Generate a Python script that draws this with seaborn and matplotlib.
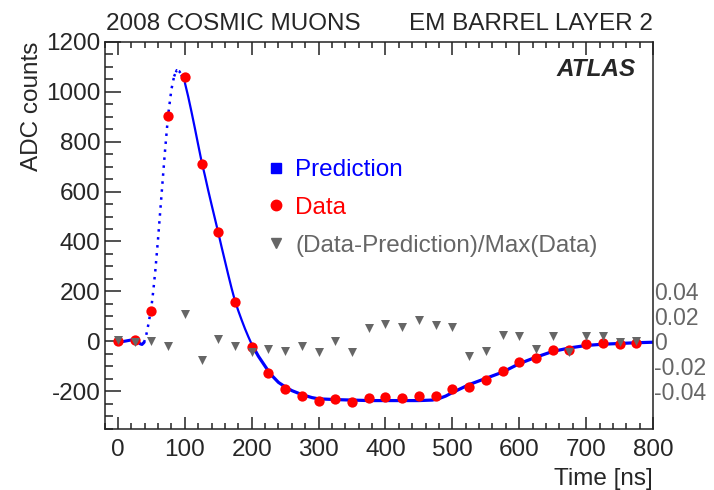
import numpy as np
import pandas as pd
import matplotlib
matplotlib.use("Agg")
import matplotlib.pyplot as plt
import seaborn as sns
from matplotlib.lines import Line2D
from matplotlib.ticker import MultipleLocator

# data points (every 25 ns)
data_t = [0, 25, 50, 75, 100, 125, 150, 175, 200, 225, 250, 275, 300, 325, 350, 375,
          400, 425, 450, 475, 500, 525, 550, 575, 600, 625, 650, 675, 700, 725, 750, 775]
data_adc = [0, 3, 120, 905, 1058, 710, 438, 158, -25, -127, -190, -218, -241, -232, -245, -227,
            -224, -226, -220, -220, -193, -184, -157, -121, -85, -69, -34, -36, -13, -9, -13, -9]
# (Data-Prediction)/Max(Data)
resid = [0.001, -0.0005, 0.0005, -0.004, 0.022, -0.015, 0.002, -0.004, -0.009, -0.0065, -0.008,
         -0.004, -0.009, 0.0005, -0.0085, 0.0105, 0.014, 0.0115, 0.0168, 0.0133, 0.0115, -0.0115,
         -0.008, 0.0053, 0.004, -0.006, 0.0045, -0.0088, 0.004, 0.0045, -0.001, 0.0005]

# prediction curve
pred_t = [0, 10, 20, 25, 30, 33, 36, 39, 42, 45, 48, 50, 53, 56, 60, 65, 70, 75, 80, 84, 88,
          92, 96, 100, 105, 110, 115, 120, 125, 130, 135, 140, 145, 150, 155, 160, 165, 170,
          175, 180, 185, 190, 195, 200, 210, 220, 225, 230, 240, 250, 260, 275, 290, 300, 325,
          350, 375, 400, 425, 450, 470, 480, 490, 500, 525, 550, 575, 600, 625, 650, 675, 700,
          725, 750, 775, 800]
pred_adc = [-5, 0, 5, 6, -2, -10, -13, -5, 20, 60, 105, 135, 205, 285, 410, 580, 750, 905, 1010,
            1062, 1087, 1082, 1062, 1038, 982, 920, 855, 788, 722, 665, 605, 548, 492, 436, 378,
            322, 266, 212, 162, 122, 85, 50, 18, -12, -60, -100, -120, -137, -165, -183, -198,
            -214, -226, -231, -234, -236, -238, -238, -238, -238, -236, -230, -220, -206, -174,
            -149, -124, -90, -64, -41, -27, -17, -12, -9, -6, -4]

sns.set_theme(style="ticks")
plt.rcParams['font.family'] = ['Liberation Sans', 'DejaVu Sans']
plt.rcParams['axes.unicode_minus'] = False

FS = 17.5
GREY = "#666666"

fig = plt.figure(figsize=(7.14, 4.90), dpi=100)
ax = fig.add_axes([0.1464, 0.1255, 0.7682, 0.7888])

pred = pd.DataFrame({"t": pred_t, "adc": pred_adc})
# steep parts look dotted in the original (dense markers), flat parts solid
seg_flat1 = pred[pred.t <= 39]
seg_rise = pred[(pred.t >= 39) & (pred.t <= 84)]
seg_peak = pred[(pred.t >= 84) & (pred.t <= 100)]
seg_fall = pred[(pred.t >= 100) & (pred.t <= 200)]
seg_flat2 = pred[pred.t >= 200]

for seg, lw, ls in [(seg_flat1, 2.2, "-"), (seg_rise, 1.8, (0, (1, 2.2))),
                    (seg_peak, 1.8, (0, (1, 0.8))), (seg_fall, 1.6, "-"),
                    (seg_flat2, 2.3, "-")]:
    sns.lineplot(data=seg, x="t", y="adc", ax=ax, color="blue", lw=lw,
                 linestyle=ls, errorbar=None, zorder=2)

sns.scatterplot(x=data_t, y=data_adc, ax=ax, color="red", marker="o", s=55,
                linewidth=0, zorder=3)

ax.set_xlim(-20, 800)
ax.set_ylim(-350, 1200)
ax.xaxis.set_major_locator(MultipleLocator(100))
ax.xaxis.set_minor_locator(MultipleLocator(20))
ax.yaxis.set_major_locator(MultipleLocator(200))
ax.yaxis.set_minor_locator(MultipleLocator(50))
ax.tick_params(which="both", direction="in", top=True, right=True, labelsize=FS,
               color="#222222", width=1.1)
ax.tick_params(axis="x", which="major", length=9, pad=7.5)
ax.tick_params(axis="x", which="minor", length=4.5)
ax.tick_params(axis="y", which="major", length=11.5, pad=3)
ax.tick_params(axis="y", which="minor", length=6)
for sp in ax.spines.values():
    sp.set_linewidth(1.1)
    sp.set_color("#222222")

ax.set_xlabel("Time [ns]", loc="right", fontsize=FS, labelpad=5)
ax.set_ylabel("ADC counts", loc="top", fontsize=FS, labelpad=2)

# right axis for the relative residuals
ax2 = ax.twinx()
sns.scatterplot(x=data_t, y=resid, ax=ax2, color=GREY, marker="v", s=42,
                linewidth=0, zorder=4)
ax2.set_ylim(-350 / 5000, 1200 / 5000)
ax2.set_yticks([-0.04, -0.02, 0, 0.02, 0.04])
ax2.set_yticklabels(["-0.04", "-0.02", "0", "0.02", "0.04"])
ax2.tick_params(axis="y", length=0, pad=1, labelsize=16.5, labelcolor=GREY)
ax2.set_ylabel("")
for sp in ax2.spines.values():
    sp.set_visible(False)

ax.text(0.969, 0.9276, "ATLAS", transform=ax.transAxes, ha="right", va="center",
        fontsize=FS, fontweight="bold", fontstyle="italic")

fig.text(106 / 714, 1 - 30 / 490, "2008 COSMIC MUONS", ha="left", va="baseline", fontsize=FS)
fig.text(653 / 714, 1 - 30 / 490, "EM BARREL LAYER 2", ha="right", va="baseline", fontsize=FS)

handles = [Line2D([], [], ls="none", marker="s", color="blue", markersize=7.5),
           Line2D([], [], ls="none", marker="o", color="red", markersize=7.5),
           Line2D([], [], ls="none", marker="v", color=GREY, markersize=6.5)]
ax2.legend(handles=handles, labels=["Prediction", "Data", "(Data-Prediction)/Max(Data)"],
           loc="upper left", bbox_to_anchor=(0.2956, 0.697), frameon=False, fontsize=FS,
           handlelength=0.8, handletextpad=0.38, labelspacing=0.65, borderpad=0,
           borderaxespad=0, labelcolor=["blue", "red", GREY])

fig.savefig("out.png", dpi=100)
